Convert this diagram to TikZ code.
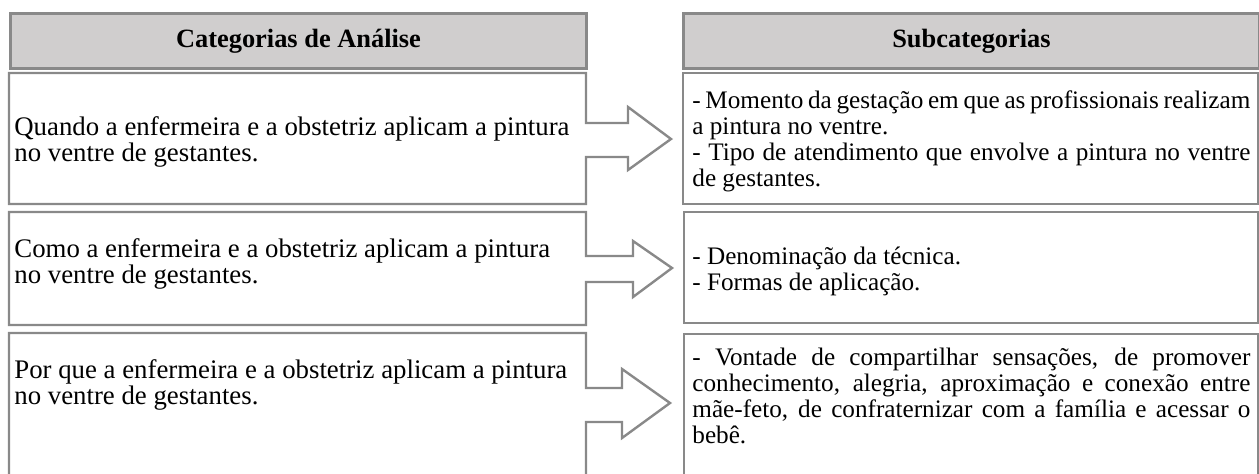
\documentclass[tikz,border=0pt]{standalone}
\usepackage{fontspec}
\setmainfont{Liberation Serif}
\definecolor{linegray}{RGB}{137,137,137}
\definecolor{headgray}{RGB}{208,206,206}
\newcommand{\jline}[1]{{\spaceskip=.25em plus .6em minus .08em\makebox[279pt][s]{#1}}}
\begin{document}
\begin{tikzpicture}[x=0.5pt,y=-0.5pt,
  frame/.style={draw=linegray,line width=1.2pt,line join=miter},
  head/.style={draw=linegray,fill=headgray,line width=1.5pt,inner sep=0pt,
    minimum width=288pt,minimum height=27.5pt,anchor=north west,
    font=\fontsize{13.2}{13}\selectfont\bfseries},
  ltext/.style={anchor=base west,inner sep=0pt,font=\fontsize{13.4}{13}\selectfont},
  rtext/.style={anchor=base west,inner sep=0pt,font=\fontsize{12.6}{13}\selectfont}]
\useasboundingbox (0,0) rectangle (1259,473);
\clip (0,0) rectangle (1259,473);
% headers
\node[head] (h1) at (9,12) {Categorias de Análise};
\node[head] (h2) at (682,12) {Subcategorias};
% left callout shapes (box with arrow)
\draw[frame] (9,73) -- (586,73) -- (586,123) -- (628,123) -- (628,107) -- (671,139)
  -- (628,170) -- (628,157) -- (586,157) -- (586,204) -- (9,204) -- cycle;
\draw[frame] (9,212) -- (586,212) -- (586,256) -- (633,256) -- (633,241) -- (672,268)
  -- (633,297) -- (633,282) -- (586,282) -- (586,325) -- (9,325) -- cycle;
\draw[frame] (9,333) -- (586,333) -- (586,388) -- (622,388) -- (622,369) -- (670,403)
  -- (622,438) -- (622,422) -- (586,422) -- (586,495) -- (9,495) -- cycle;
% right boxes
\draw[frame] (683,73) rectangle (1258,204);
\draw[frame] (684,212) rectangle (1258,323);
\draw[frame] (684,334) rectangle (1258,495);
% left texts
\node[ltext] (l1) at (14,135) {\parbox[t]{290pt}{Quando a enfermeira e a obstetriz aplicam a pintura\\no ventre de gestantes.}};
\node[ltext] (l2) at (14,257) {\parbox[t]{290pt}{Como a enfermeira e a obstetriz aplicam a pintura\\no ventre de gestantes.}};
\node[ltext] (l3) at (14,378) {\parbox[t]{290pt}{Por que a enfermeira e a obstetriz aplicam a pintura\\no ventre de gestantes.}};
% right texts
\node[rtext] (r1) at (692,108) {\parbox[t]{279pt}{\jline{- Momento da gestação em que as profissionais realizam}\\a pintura no ventre.\\\jline{- Tipo de atendimento que envolve a pintura no ventre}\\de gestantes.}};
\node[rtext] (r2) at (692,264) {\parbox[t]{279pt}{- Denominação da técnica.\\- Formas de aplicação.}};
\node[rtext] (r3) at (692,365) {\parbox[t]{279pt}{\jline{- Vontade de compartilhar sensações, de promover}\\\jline{conhecimento, alegria, aproximação e conexão entre}\\\jline{mãe-feto, de confraternizar com a família e acessar o}\\bebê.}};
\end{tikzpicture}
\end{document}
